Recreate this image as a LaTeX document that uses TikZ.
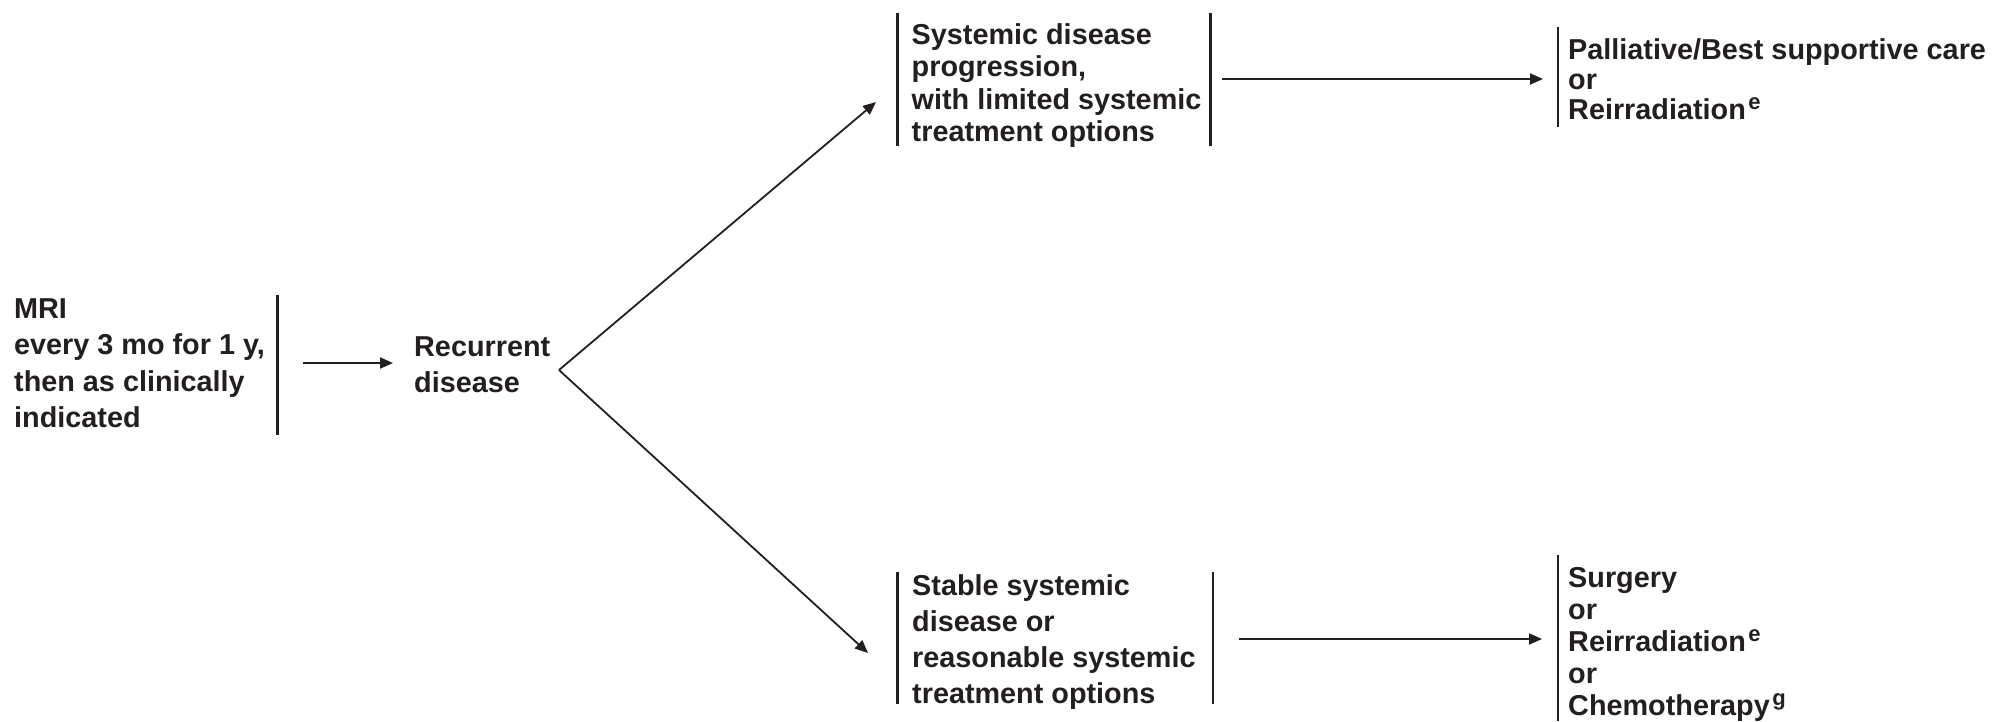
\documentclass[tikz,border=0pt]{standalone}
\usepackage{fontspec}
\setmainfont{Liberation Sans}
\usetikzlibrary{arrows.meta}
\definecolor{ink}{RGB}{35,31,32}
\newcommand{\supmark}[1]{\hspace{2.5pt}\raisebox{0.34em}{\fontsize{22}{22}\selectfont #1}}
\begin{document}
\begin{tikzpicture}[x=1pt,y=-1pt,
  txt/.style={anchor=base west, inner sep=0pt, text=ink},
  sp365/.style={txt, font=\bfseries\fontsize{28.8}{36.5}\selectfont},
  sp36/.style={txt, font=\bfseries\fontsize{28.8}{36}\selectfont},
  sp325/.style={txt, font=\bfseries\fontsize{28.8}{32.5}\selectfont},
  sp32/.style={txt, font=\bfseries\fontsize{28.8}{32}\selectfont},
  sp30/.style={txt, font=\bfseries\fontsize{28.8}{30}\selectfont},
  bar/.style={draw=ink, line width=2.5pt},
  arr/.style={draw=ink, line width=2pt, -{Triangle[length=13pt,width=11pt]}},
  darr/.style={draw=ink, line width=1.8pt, -{Triangle[length=13pt,width=11pt]}}]
\useasboundingbox (0,0) rectangle (1996,721);

% text nodes
\node[sp365] (mri) at (14,318) {\begin{tabular}[t]{@{}l@{}}MRI\\every 3 mo for 1 y,\\then as clinically\\indicated\end{tabular}};
\node[sp36] (rec) at (414,356) {\begin{tabular}[t]{@{}l@{}}Recurrent\\disease\end{tabular}};
\node[sp325] (sys) at (911.5,44) {\begin{tabular}[t]{@{}l@{}}Systemic disease\\progression,\\with limited systemic\\treatment options\end{tabular}};
\node[sp36] (stab) at (912,595) {\begin{tabular}[t]{@{}l@{}}Stable systemic\\disease or\\reasonable systemic\\treatment options\end{tabular}};
\node[sp30] (pal) at (1568,59) {\begin{tabular}[t]{@{}l@{}}Palliative/Best supportive care\\or\\Reirradiation\supmark{e}\end{tabular}};
\node[sp32] (surg) at (1568,587) {\begin{tabular}[t]{@{}l@{}}Surgery\\or\\Reirradiation\supmark{e}\\or\\Chemotherapy\supmark{g}\end{tabular}};

% bars
\coordinate (b1t) at (277.5,295); \coordinate (b1b) at (277.5,435);
\coordinate (b2t) at (897.5,12.5); \coordinate (b2b) at (897.5,146);
\coordinate (b3t) at (1210.6,12.5); \coordinate (b3b) at (1210.6,146);
\coordinate (b4t) at (1558,27); \coordinate (b4b) at (1558,127);
\coordinate (b5t) at (897.5,572); \coordinate (b5b) at (897.5,704);
\coordinate (b6t) at (1213,572); \coordinate (b6b) at (1213,704);
\coordinate (b7t) at (1558,555); \coordinate (b7b) at (1558,721);
\foreach \b in {1,...,7} {\draw[bar] (b\b t) -- (b\b b);}

% arrows
\coordinate (a1s) at (303,363); \coordinate (a1e) at (393,363);
\draw[arr] (a1s) -- (a1e);
\coordinate (br) at (559,370);
\coordinate (upe) at (876,102);
\coordinate (loe) at (868,653);
\draw[darr] (br) -- (upe);
\draw[darr] (br) -- (loe);
\coordinate (a2s) at (1222,79); \coordinate (a2e) at (1543,79);
\draw[arr] (a2s) -- (a2e);
\coordinate (a3s) at (1239,639); \coordinate (a3e) at (1542,639);
\draw[arr] (a3s) -- (a3e);
\end{tikzpicture}
\end{document}
